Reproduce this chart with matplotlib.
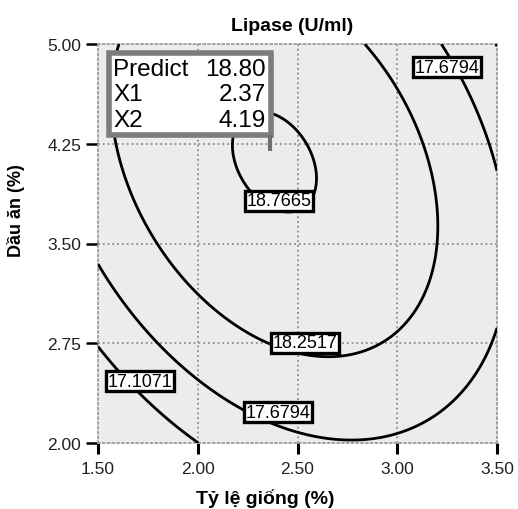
"""Lipase (U/ml) contour plot: seed ratio vs. cooking oil."""

import numpy as np
import matplotlib
matplotlib.use("Agg")
import matplotlib.pyplot as plt
from matplotlib.patches import Rectangle

plt.rcParams['font.family'] = ['Liberation Sans', 'DejaVu Sans']

# Quadratic response model
# Z = b0 + b1*x + b2*y + b12*x*y + b11*x^2 + b22*y^2
b0 = 5.338401
b1 = 5.801730
b2 = 3.182955
b12 = -0.340480
b11 = -0.922827
b22 = -0.288164

# contour levels and where their labels sit
levels = [17.1071, 17.6794, 18.2517, 18.7665]
label_levels = [17.6794, 18.7665, 18.2517, 17.6794, 17.1071]
label_x = [3.249, 2.407, 2.538, 2.402, 1.711]
label_y = [4.827, 3.820, 2.752, 2.233, 2.466]

# axis ticks
x_ticks = [1.50, 2.00, 2.50, 3.00, 3.50]
y_ticks = [2.00, 2.75, 3.50, 4.25, 5.00]

# flag shown in the top-left box
flag_names = ["Predict", "X1", "X2"]
flag_values = [18.80, 2.37, 4.19]

x = np.linspace(x_ticks[0], x_ticks[-1], 300)
y = np.linspace(y_ticks[0], y_ticks[-1], 300)
xx, yy = np.meshgrid(x, y)
zz = b0 + b1 * xx + b2 * yy + b12 * xx * yy + b11 * xx ** 2 + b22 * yy ** 2

fig = plt.figure(figsize=(5.18, 5.10), dpi=100)
ax = fig.add_axes([98 / 518, 66 / 510, 399 / 518, 399 / 510])
ax.set_facecolor('#ececec')

ax.contour(xx, yy, zz, levels=levels, colors='black', linewidths=2.0, zorder=3)

# labels in white boxes
for lv, lx, ly in zip(label_levels, label_x, label_y):
    ax.text(lx, ly, f"{lv:.4f}", ha='center', va='center', fontsize=13,
            color='black', zorder=5,
            bbox=dict(boxstyle='square,pad=0.08', fc='white', ec='black', lw=2.4))

# axes, grid, ticks
ax.set_xlim(x_ticks[0], x_ticks[-1])
ax.set_ylim(y_ticks[0], y_ticks[-1])
ax.set_xticks(x_ticks)
ax.set_yticks(y_ticks)
ax.set_xticklabels([f"{v:.2f}" for v in x_ticks])
ax.set_yticklabels([f"{v:.2f}" for v in y_ticks])
ax.grid(True, color='#8c8c8c', linestyle=':', linewidth=1.3, zorder=1)
ax.set_axisbelow(True)
for s in ax.spines.values():
    s.set_color('#a0a0a0')
    s.set_linestyle(':')
    s.set_linewidth(1.3)
ax.tick_params(axis='x', direction='out', length=8, width=2.2, pad=5,
               labelsize=12.5, colors='black', labelcolor='#222222')
ax.tick_params(axis='y', direction='out', length=9, width=1.8, pad=3,
               labelsize=12.5, colors='black', labelcolor='#222222')

ax.set_title("Lipase (U/ml)", fontsize=14, fontweight='bold', pad=10, x=0.486)
ax.set_xlabel("Tỷ lệ giống (%)", fontsize=14, fontweight='bold')
ax.xaxis.set_label_coords(0.419, -0.113)
ax.set_ylabel("Dầu ăn (%)", fontsize=13, fontweight='bold')
ax.yaxis.set_label_coords(-0.183, 0.584)

# prediction flag box
def ax_xy(px, py):
    return (px - 98) / 399, (444 - py) / 399

x0, y0 = ax_xy(109, 136)
x1, y1 = ax_xy(271, 54)
ax.add_patch(Rectangle((x0, y0), x1 - x0, y1 - y0, transform=ax.transAxes,
                       fc='white', ec='#7c7c7c', lw=4, zorder=6))
px0, py0 = ax_xy(270, 136)
px1, py1 = ax_xy(270, 152)
ax.plot([px0, px1], [py0, py1], transform=ax.transAxes, color='#6e6e6e',
        lw=3, zorder=6, solid_capstyle='butt')
row_y = [70, 95, 121]
for name, val, ry in zip(flag_names, flag_values, row_y):
    tx, ty = ax_xy(113, ry)
    vx, _ = ax_xy(266, ry)
    ax.text(tx, ty, name, transform=ax.transAxes, ha='left', va='center',
            fontsize=17.5, zorder=7)
    ax.text(vx, ty, f"{val:.2f}", transform=ax.transAxes, ha='right',
            va='center', fontsize=17.5, zorder=7)

fig.savefig("out.png", dpi=100)
